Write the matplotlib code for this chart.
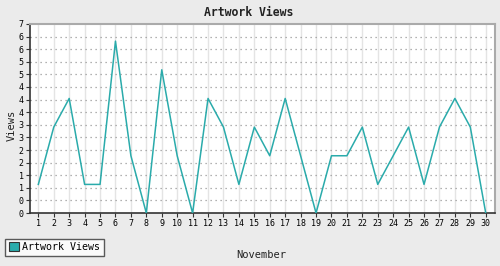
import numpy as np
import matplotlib
matplotlib.use("Agg")
import matplotlib.pyplot as plt
from matplotlib.patches import Patch

days = list(range(1, 31))
views = [1, 3, 4, 1, 1, 6, 2, 0, 5, 2, 0, 4, 3, 1, 3,
         2, 4, 2, 0, 2, 2, 3, 1, 2, 3, 1, 3, 4, 3, 0]
ytick_labels = ["0", "0", "1", "1", "2", "2", "3", "3",
                "4", "4", "4", "5", "5", "6", "6", "7"]

TEAL = "#2aabab"
BG = "#ebebeb"
FONT = "DejaVu Sans Mono"

fig = plt.figure(figsize=(5.0, 2.66), dpi=100, facecolor=BG)
ax = fig.add_axes([0.06, 0.199, 0.93, 0.711])
ax.set_facecolor("white")

ymax = max(views) * 1.1
yticks = np.linspace(0, ymax, len(ytick_labels))

ax.plot(days, views, color=TEAL, lw=1.1, zorder=3)

ax.set_xlim(0.46, 30.6)
ax.set_ylim(0, ymax)

ax.set_xticks(days)
ax.set_xticklabels([str(d) for d in days], fontsize=6, family=FONT)
ax.set_yticks(yticks)
ax.set_yticklabels(ytick_labels, fontsize=6, family=FONT)
ax.tick_params(axis="both", length=3, width=0.8, color="#333333", pad=1.5)

# grid: light solid verticals, dotted horizontals
for d in days:
    ax.axvline(d, color="#e4e4e4", lw=1, zorder=1)
for y in yticks[1:-1]:
    ax.axhline(y, color="#999999", lw=0.9, ls=(0, (1, 3)), zorder=1)

for side in ["left", "bottom"]:
    ax.spines[side].set_color("#333333")
    ax.spines[side].set_linewidth(1.2)
for side in ["top", "right"]:
    ax.spines[side].set_color("#aaaaaa")
    ax.spines[side].set_linewidth(1.5)

fig.text(0.498, 0.952, "Artwork Views", ha="center", va="center",
         fontsize=8.3, fontweight="bold", family=FONT, color="#222222")
fig.text(0.523, 0.042, "November", ha="center", va="center",
         fontsize=7.5, family=FONT, color="#222222")
fig.text(0.024, 0.53, "Views", ha="center", va="center", rotation=90,
         fontsize=7.5, family=FONT, color="#222222")

handle = Patch(facecolor=TEAL, edgecolor="#333333", linewidth=0.8)
leg = fig.legend([handle], ["Artwork Views"], loc="lower left",
                 bbox_to_anchor=(0.01, 0.038), prop={"family": FONT, "size": 7.2},
                 frameon=True, fancybox=False, handlelength=1.0, handleheight=1.0,
                 handletextpad=0.4, borderpad=0.35, borderaxespad=0)
leg.get_frame().set_edgecolor("#333333")
leg.get_frame().set_linewidth(1.0)
leg.get_frame().set_facecolor("white")

fig.savefig("out.png", dpi=100, facecolor=BG)
